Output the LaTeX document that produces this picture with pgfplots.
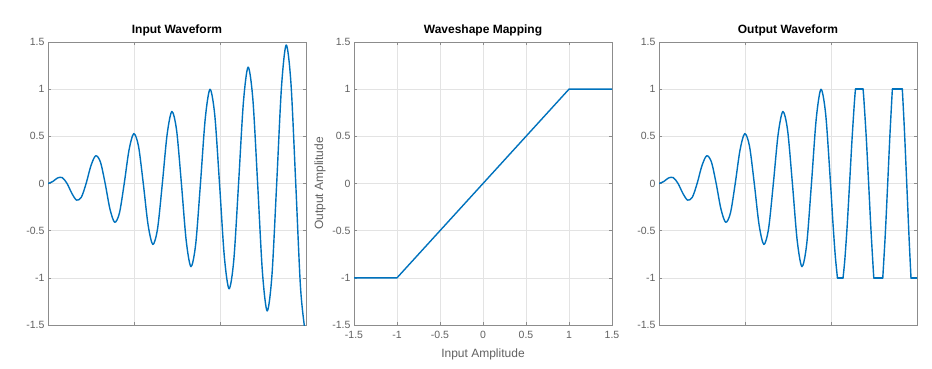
\documentclass[border=0pt]{standalone}
\usepackage{fontspec}
\setmainfont{Liberation Sans}
\usepackage{pgfplots}
\usepackage{pgfplotstable}
\pgfplotsset{compat=1.18}
\definecolor{mblue}{rgb}{0,0.447,0.741}

\pgfplotstableread{
x y
0 0
0.0554 0.0208
0.1108 0.0587
0.1662 0.0623
0.2216 0
0.2770 -0.1038
0.3324 -0.1762
0.3878 -0.1453
0.4432 0
0.4986 0.1869
0.5540 0.2936
0.6094 0.2284
0.6648 0
0.7202 -0.2699
0.7756 -0.4111
0.8310 -0.3114
0.8864 0
0.9418 0.3530
0.9972 0.5285
1.0526 0.3945
1.1080 0
1.1634 -0.4360
1.2188 -0.6460
1.2742 -0.4775
1.3296 0
1.3850 0.5190
1.4404 0.7634
1.4958 0.5606
1.5512 0
1.6066 -0.6021
1.6620 -0.8809
1.7174 -0.6436
1.7728 0
1.8282 0.6851
1.8836 0.9983
1.9390 0.7267
1.9944 0
2.0498 -0.7682
2.1052 -1.1158
2.1606 -0.8097
2.2160 0
2.2714 0.8512
2.3268 1.2332
2.3822 0.8928
2.4376 0
2.4930 -0.9343
2.5484 -1.3507
2.6038 -0.9758
2.6592 0
2.7146 1.0173
2.7700 1.4681
2.8254 1.0588
2.8808 0
2.9362 -1.1004
2.9916 -1.5856
3.0 -1.579
}\inputwave

\pgfplotstableread{
x y
0 0
0.0554 0.0208
0.1108 0.0587
0.1662 0.0623
0.2216 0
0.2770 -0.1038
0.3324 -0.1762
0.3878 -0.1453
0.4432 0
0.4986 0.1869
0.5540 0.2936
0.6094 0.2284
0.6648 0
0.7202 -0.2699
0.7756 -0.4111
0.8310 -0.3114
0.8864 0
0.9418 0.3530
0.9972 0.5285
1.0526 0.3945
1.1080 0
1.1634 -0.4360
1.2188 -0.6460
1.2742 -0.4775
1.3296 0
1.3850 0.5190
1.4404 0.7634
1.4958 0.5606
1.5512 0
1.6066 -0.6021
1.6620 -0.8809
1.7174 -0.6436
1.7728 0
1.8282 0.6851
1.8836 0.9983
1.9390 0.7267
1.9944 0
2.0221 -0.4101
2.0498 -0.7682
2.0749 -1
}\outA

\pgfplotstableread{
x y
2.1399 -1
2.1606 -0.8097
2.1883 -0.4439
2.2160 0
2.2437 0.4551
2.2714 0.8512
2.2845 1
}\outB

\pgfplotstableread{
x y
2.3728 1
2.3822 0.8928
2.4099 0.4888
2.4376 0
2.4653 -0.5000
2.4930 -0.9343
2.4980 -1
}\outC

\pgfplotstableread{
x y
2.6020 -1
2.6315 -0.5337
2.6592 0
2.6869 0.5450
2.7134 1
}\outD

\pgfplotstableread{
x y
2.8293 1
2.8531 0.5787
2.8808 0
2.9085 -0.5899
2.9302 -1
}\outE

\pgfplotsset{
  mstyle/.style={
    scale only axis, width=258pt, height=283pt,
    anchor=north west,
    ymin=-1.5, ymax=1.5, ytick={-1.5,-1,-0.5,0,0.5,1,1.5},
    axis line style={draw=black!45, line width=0.7pt},
    tick style={draw=black!45, line width=0.5pt},
    tick align=inside, major tick length=3pt,
    xtick pos=both, ytick pos=both,
    grid=major, major grid style={draw=black!11, line width=0.5pt},
    /pgf/number format/assume math mode=true,
    /pgf/number format/fixed,
    ticklabel style={font=\fontsize{10.5}{12}\selectfont, text=black!62},
    xticklabel style={yshift=-3pt},
    label style={font=\fontsize{12}{14}\selectfont, text=black!62},
    title style={font=\bfseries\fontsize{12}{14}\selectfont, yshift=-4pt},
  },
  wave/.style={draw=mblue, line width=1.4pt, mark=none, line join=round, line cap=round},
}

\begin{document}
\begin{tikzpicture}
\useasboundingbox (0,0) rectangle (932pt,-368pt);

% Left: input waveform
\begin{axis}[mstyle, at={(48pt,-42pt)},
  xmin=0, xmax=3, xtick={1,2}, xticklabel style={text opacity=0},
  title={Input Waveform}]
  \addplot[wave, smooth] table {\inputwave};
\end{axis}

% Middle: mapping
\begin{axis}[mstyle, at={(354pt,-42pt)},
  xmin=-1.5, xmax=1.5, xtick={-1.5,-1,-0.5,0,0.5,1,1.5},
  title={Waveshape Mapping},
  xlabel={Input Amplitude}, ylabel={Output Amplitude},
  xlabel style={yshift=-3pt}, ylabel style={yshift=0pt}]
  \addplot[wave] coordinates {(-1.5,-1) (-1,-1) (1,1) (1.5,1)};
\end{axis}

% Right: output waveform
\begin{axis}[mstyle, at={(659pt,-42pt)},
  xmin=0, xmax=3, xtick={1,2}, xticklabel style={text opacity=0},
  title={Output Waveform}]
  \addplot[wave, smooth] table {\outA};
  \addplot[wave] coordinates {(2.0749,-1) (2.1399,-1)};
  \addplot[wave, smooth] table {\outB};
  \addplot[wave] coordinates {(2.2845,1) (2.3728,1)};
  \addplot[wave, smooth] table {\outC};
  \addplot[wave] coordinates {(2.4980,-1) (2.6020,-1)};
  \addplot[wave, smooth] table {\outD};
  \addplot[wave] coordinates {(2.7134,1) (2.8293,1)};
  \addplot[wave, smooth] table {\outE};
  \addplot[wave] coordinates {(2.9302,-1) (3,-1)};
\end{axis}
\end{tikzpicture}
\end{document}
